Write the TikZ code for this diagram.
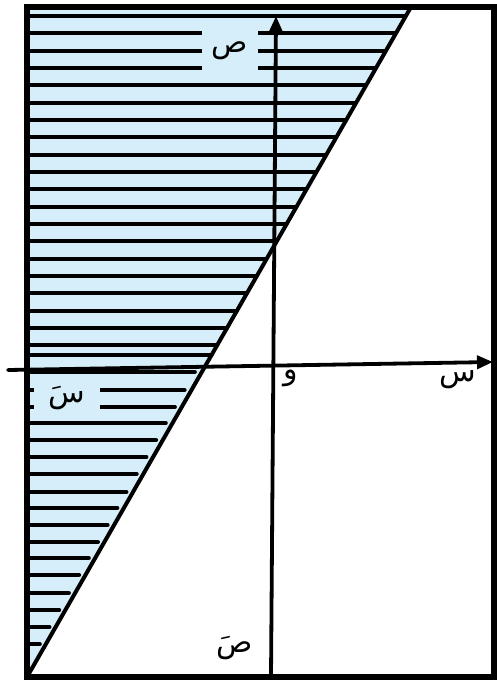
\documentclass[tikz,border=0pt]{standalone}
\usepackage{fontspec}
\usetikzlibrary{arrows.meta}
\newfontfamily\arabicfont[Script=Arabic]{DejaVu Sans}
\TeXXeTstate=1
\definecolor{shadeblue}{HTML}{D6EEF9}
\tikzset{frame/.style={line width=5.5pt,line join=miter},axis/.style={line width=3.8pt,-{Triangle[length=16pt,width=13pt]}},hatch/.style={line width=4pt,line cap=round},boundary/.style={line width=4pt},letter/.style={font=\arabicfont\fontsize{30}{32}\selectfont,inner sep=1pt},every picture/.style={line cap=round}}

\begin{document}
\begin{tikzpicture}[x=1pt,y=-1pt]
\useasboundingbox (0,0) rectangle (497,682);
\coordinate (tl) at (27,7); \coordinate (tr) at (494,7); \coordinate (br) at (494,677); \coordinate (bl) at (27,677);
\coordinate (top) at (411,7);
\fill[shadeblue] (tl)--(top)--(bl)--cycle;
% hatching: above the x axis to the line, below it a little short
\foreach \y in {16,33,51,68,85,103,120,137,155,172,189,207,224,241,259,276,293,311,328,345,355,372,390,407,423,440,457,474,492,508,525,542,558,575,593,610,627,644}{
  \pgfmathsetmacro{\xe}{28+(677-\y)*0.5701-(\y>370)*7}
  \draw[hatch] (28,\y)--(\xe,\y);}
\node[letter,fill=shadeblue,minimum width=56pt,minimum height=40pt] (ypos) at (230,51) {\beginR ص\endR};
\node[letter,fill=shadeblue,minimum width=66pt,minimum height=30pt] (xneg) at (67,398) {\beginR سَ\endR};
\draw[boundary] (bl)--(top);
\coordinate (xl) at (8,370); \coordinate (xr) at (493,362);
\coordinate (yb) at (271,677); \coordinate (yt) at (276,16);
\draw[axis] (xl)--(xr);
\draw[axis] (yb)--(yt);
\draw[frame] (tl)--(tr)--(br)--(bl)--cycle;
\node[letter] (orig) at (291,378) {\beginR و\endR};
\node[letter] (xpos) at (458,380) {\beginR س\endR};
\node[letter] (yneg) at (235,648) {\beginR صَ\endR};
\end{tikzpicture}
\end{document}
